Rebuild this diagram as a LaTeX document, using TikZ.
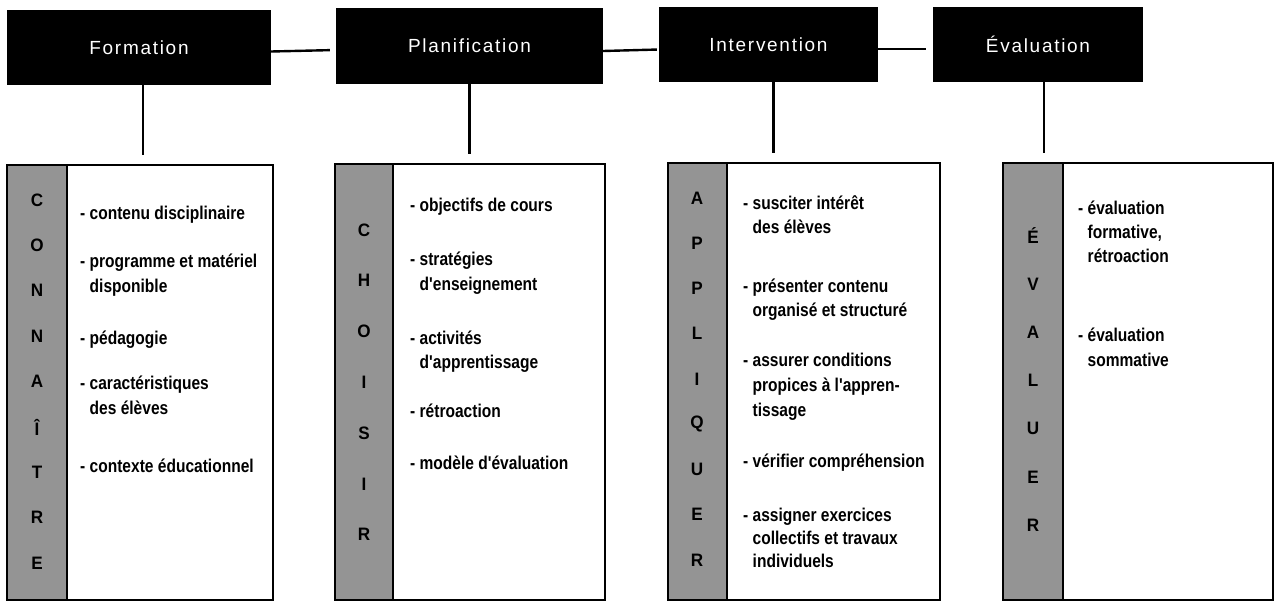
\documentclass[tikz,border=0pt]{standalone}
\usepackage{fontspec}
\setmainfont{Liberation Sans}
\newfontfamily\hdrfont{Liberation Sans}[LetterSpace=9]
\newfontfamily\itmfont{Liberation Sans}[FakeStretch=0.84]
\newfontfamily\ltrfont{Liberation Sans}[FakeStretch=0.95]
\newcommand\cnt{\phantom{- }}
\begin{document}
\begin{tikzpicture}[x=1pt,y=-1pt,
  hdr/.style={fill=black, text=white, inner sep=0pt, font=\hdrfont\fontsize{19}{22}\selectfont},
  panel/.style={draw=black, line width=1.8pt, inner sep=0pt},
  strip/.style={draw=black, line width=1.8pt, fill=black!42, inner sep=0pt, anchor=north west},
  ltr/.style={inner sep=0pt, font=\ltrfont\bfseries\fontsize{18}{20}\selectfont},
  itm/.style={anchor=west, inner sep=0pt, text height=13pt, text depth=4pt, font=\itmfont\bfseries\fontsize{18.5}{21}\selectfont},
  link/.style={line width=2.4pt}]
\useasboundingbox[fill=white] (0,0) rectangle (1277,602);

% headers
\node[hdr, minimum width=264pt, minimum height=75pt] (hF) at (139,47.5) {Formation};
\node[hdr, minimum width=267pt, minimum height=76pt] (hP) at (469.5,46) {Planification};
\node[hdr, minimum width=219pt, minimum height=75pt] (hI) at (768.5,44.5) {Intervention};
\node[hdr, minimum width=210pt, minimum height=75pt] (hE) at (1038,44.5) {Évaluation};

% panels
\node[panel, minimum width=266pt, minimum height=435pt] (bF) at (140,382.5) {};
\node[panel, minimum width=270pt, minimum height=436pt] (bP) at (470,382) {};
\node[panel, minimum width=272pt, minimum height=437pt] (bI) at (804,381.5) {};
\node[panel, minimum width=270pt, minimum height=437pt] (bE) at (1138,381.5) {};

% strips
\node[strip, minimum width=60pt, minimum height=435pt] (sF) at (bF.north west) {};
\node[strip, minimum width=58pt, minimum height=436pt] (sP) at (bP.north west) {};
\node[strip, minimum width=59pt, minimum height=437pt] (sI) at (bI.north west) {};
\node[strip, minimum width=60pt, minimum height=437pt] (sE) at (bE.north west) {};

% connectors
\draw[link, shorten >=6pt] ([yshift=-4pt]hF.east) -- ([yshift=-4pt]hP.west);
\draw[link, shorten >=2pt] ([yshift=-5pt]hP.east) -- ([yshift=-5pt]hI.west);
\draw[link, shorten >=7pt] ([yshift=-4.5pt]hI.east) -- ([yshift=-4.5pt]hE.west);
\draw[link, shorten >=9pt] ([xshift=4pt]hF.south) -- ([xshift=4pt]hF.south |- bF.north);
\draw[link, shorten >=9pt] (hP.south) -- (hP.south |- bP.north);
\draw[link, shorten >=9pt] ([xshift=5pt]hI.south) -- ([xshift=5pt]hI.south |- bI.north);
\draw[link, shorten >=9pt] ([xshift=6pt]hE.south) -- ([xshift=6pt]hE.south |- bE.north);

% strip letters
\foreach \l [count=\k] in {C,O,N,N,A,Î,T,R,E}
  \node[ltr] (lF\k) at (37,{200+45.4*(\k-1)}) {\l};
\foreach \l [count=\k] in {C,H,O,I,S,I,R}
  \node[ltr] (lP\k) at (364,{230+50.8*(\k-1)}) {\l};
\foreach \l [count=\k] in {A,P,P,L,I,Q,U,E,R}
  \node[ltr] (lI\k) at (697,{198+45.25*(\k-1)}) {\l};
\foreach \l [count=\k] in {É,V,A,L,U,E,R}
  \node[ltr] (lE\k) at (1033,{236+48.2*(\k-1)}) {\l};

% Formation items
\node[itm] (f1) at (80,215) {- contenu disciplinaire};
\node[itm] (f2) at (80,263) {- programme et matériel};
\node[itm] (f3) at (80,288) {\cnt disponible};
\node[itm] (f4) at (80,340) {- pédagogie};
\node[itm] (f5) at (80,385) {- caractéristiques};
\node[itm] (f6) at (80,410) {\cnt des élèves};
\node[itm] (f7) at (80,468) {- contexte éducationnel};

% Planification items
\node[itm] (p1) at (410,207) {- objectifs de cours};
\node[itm] (p2) at (410,261) {- stratégies};
\node[itm] (p3) at (410,286) {\cnt d'enseignement};
\node[itm] (p4) at (410,340) {- activités};
\node[itm] (p5) at (410,364) {\cnt d'apprentissage};
\node[itm] (p6) at (410,413) {- rétroaction};
\node[itm] (p7) at (410,465) {- modèle d'évaluation};

% Intervention items
\node[itm] (n1) at (743,205) {- susciter intérêt};
\node[itm] (n2) at (743,229) {\cnt des élèves};
\node[itm] (n3) at (743,288) {- présenter contenu};
\node[itm] (n4) at (743,312) {\cnt organisé et structuré};
\node[itm] (n5) at (743,362) {- assurer conditions};
\node[itm] (n6) at (743,387) {\cnt propices à l'appren-};
\node[itm] (n7) at (743,412) {\cnt tissage};
\node[itm] (n8) at (743,463) {- vérifier compréhension};
\node[itm] (n9) at (743,517) {- assigner exercices};
\node[itm] (n10) at (743,540) {\cnt collectifs et travaux};
\node[itm] (n11) at (743,563) {\cnt individuels};

% Evaluation items
\node[itm] (e1) at (1078,210) {- évaluation};
\node[itm] (e2) at (1078,234) {\cnt formative,};
\node[itm] (e3) at (1078,258) {\cnt rétroaction};
\node[itm] (e4) at (1078,337) {- évaluation};
\node[itm] (e5) at (1078,362) {\cnt sommative};
\end{tikzpicture}
\end{document}
